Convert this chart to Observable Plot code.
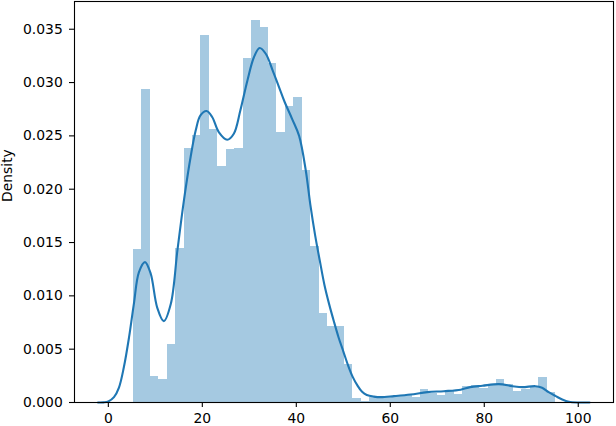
<!DOCTYPE html>
<html>
<head>
<meta charset="utf-8">
<script src="https://cdn.jsdelivr.net/npm/d3@7"></script>
<script src="https://cdn.jsdelivr.net/npm/@observablehq/plot@0.6"></script>
<style>
  html, body { margin: 0; padding: 0; background: white; }
</style>
</head>
<body>
<div id="chart"></div>
<script>
// Histogram: 50 bins, density values
const binStart = 5.32;
const binWidth = 1.797;
const binDensity = [
  0.01435, 0.02936, 0.00244, 0.00216, 0.00544, 0.01445, 0.02386, 0.02505, 0.03443, 0.02560,
  0.02214, 0.02373, 0.02386, 0.03227, 0.03583, 0.03518, 0.03180, 0.02533, 0.02777, 0.02860,
  0.02176, 0.01463, 0.00830, 0.00710, 0.00710, 0.00356, 0.00040, 0.00010, 0.00050, 0.00050,
  0.00060, 0.00060, 0.00070, 0.00050, 0.00122, 0.00088, 0.00066, 0.00106, 0.00075, 0.00150,
  0.00160, 0.00130, 0.00160, 0.00216, 0.00169, 0.00103, 0.00122, 0.00140, 0.00235, 0.00094
];

// KDE curve points
const kdeX = [-2.2, -1.0, 0.0, 1.2, 2.26, 3.3, 4.4, 5.45, 6.5, 7.8, 9.0, 10.4, 11.8, 13.3, 14.7,
  16.1, 17.5, 18.6, 19.6, 20.9, 22.1, 23.5, 25.3, 26.7, 28.1, 29.6, 31.0, 32.2, 33.5, 35.0,
  36.3, 37.5, 39.1, 40.6, 42.0, 43.0, 44.0, 45.0, 46.0, 47.0, 48.0, 49.0, 50.0, 51.0, 52.0,
  53.0, 54.0, 55.0, 56.5, 58.0, 60.8, 64.3, 67.9, 71.4, 75.0, 77.0, 79.6, 83.1, 86.0, 88.1,
  90.9, 92.3, 93.7, 95.2, 96.6, 98.0, 100.1, 102.4];
const kdeY = [0, 0.00001, 0.0001, 0.0005, 0.0014, 0.0033, 0.0061, 0.0093, 0.0122, 0.01316, 0.0121, 0.0089, 0.00763, 0.00926, 0.01426,
  0.0190, 0.0230, 0.02552, 0.02692, 0.02733, 0.02677, 0.02536, 0.02464, 0.0252, 0.0274, 0.0302, 0.0324, 0.03324, 0.0327, 0.0311,
  0.0296, 0.0282, 0.0266, 0.0250, 0.0218, 0.0185, 0.0157, 0.0133, 0.0110, 0.0092, 0.0076, 0.0061, 0.0048, 0.0035, 0.0024,
  0.0016, 0.0010, 0.0007, 0.00055, 0.0005, 0.0006, 0.00075, 0.00097, 0.00106, 0.0012, 0.00144, 0.00157, 0.00172, 0.00153, 0.00144,
  0.00153, 0.00138, 0.00097, 0.0006, 0.00028, 0.00007, 0.0, 0.0];

const xTicks = [0, 20, 40, 60, 80, 100];
const yTicks = [0, 0.005, 0.010, 0.015, 0.020, 0.025, 0.030, 0.035];
const yLabel = "Density";

const bars = binDensity.map((d, i) => ({
  x1: binStart + i * binWidth,
  x2: binStart + (i + 1) * binWidth,
  y: d
}));
const kde = kdeX.map((x, i) => ({x, y: kdeY[i]}));

const chart = Plot.plot({
  width: 616,
  height: 426,
  marginLeft: 74,
  marginRight: 3,
  marginTop: 1,
  marginBottom: 24,
  style: {fontFamily: "'DejaVu Sans', sans-serif", fontSize: "13.9px", background: "white", color: "black"},
  x: {domain: [-7.2, 107.5]},
  y: {domain: [0, 0.0376]},
  marks: [
    Plot.rectY(bars, {x1: "x1", x2: "x2", y: "y", fill: "#1f77b4", fillOpacity: 0.4, shapeRendering: "crispEdges"}),
    Plot.line(kde, {x: "x", y: "y", stroke: "#1f77b4", strokeWidth: 2.1, curve: "catmull-rom"}),
    Plot.frame({stroke: "black", strokeWidth: 1.1}),
    Plot.axisX({ticks: xTicks, tickFormat: "d", tickSize: 5, tickPadding: 5.5, label: null, stroke: "black", strokeWidth: 1.1}),
    Plot.axisY({ticks: yTicks, tickFormat: ".3f", tickSize: 5, tickPadding: 6.7, label: null, stroke: "black", strokeWidth: 1.1}),
    Plot.text([yLabel], {frameAnchor: "left", text: d => d, rotate: -90, dx: -66.5, fill: "black"})
  ]
});
document.getElementById("chart").appendChild(chart);
</script>
</body>
</html>
